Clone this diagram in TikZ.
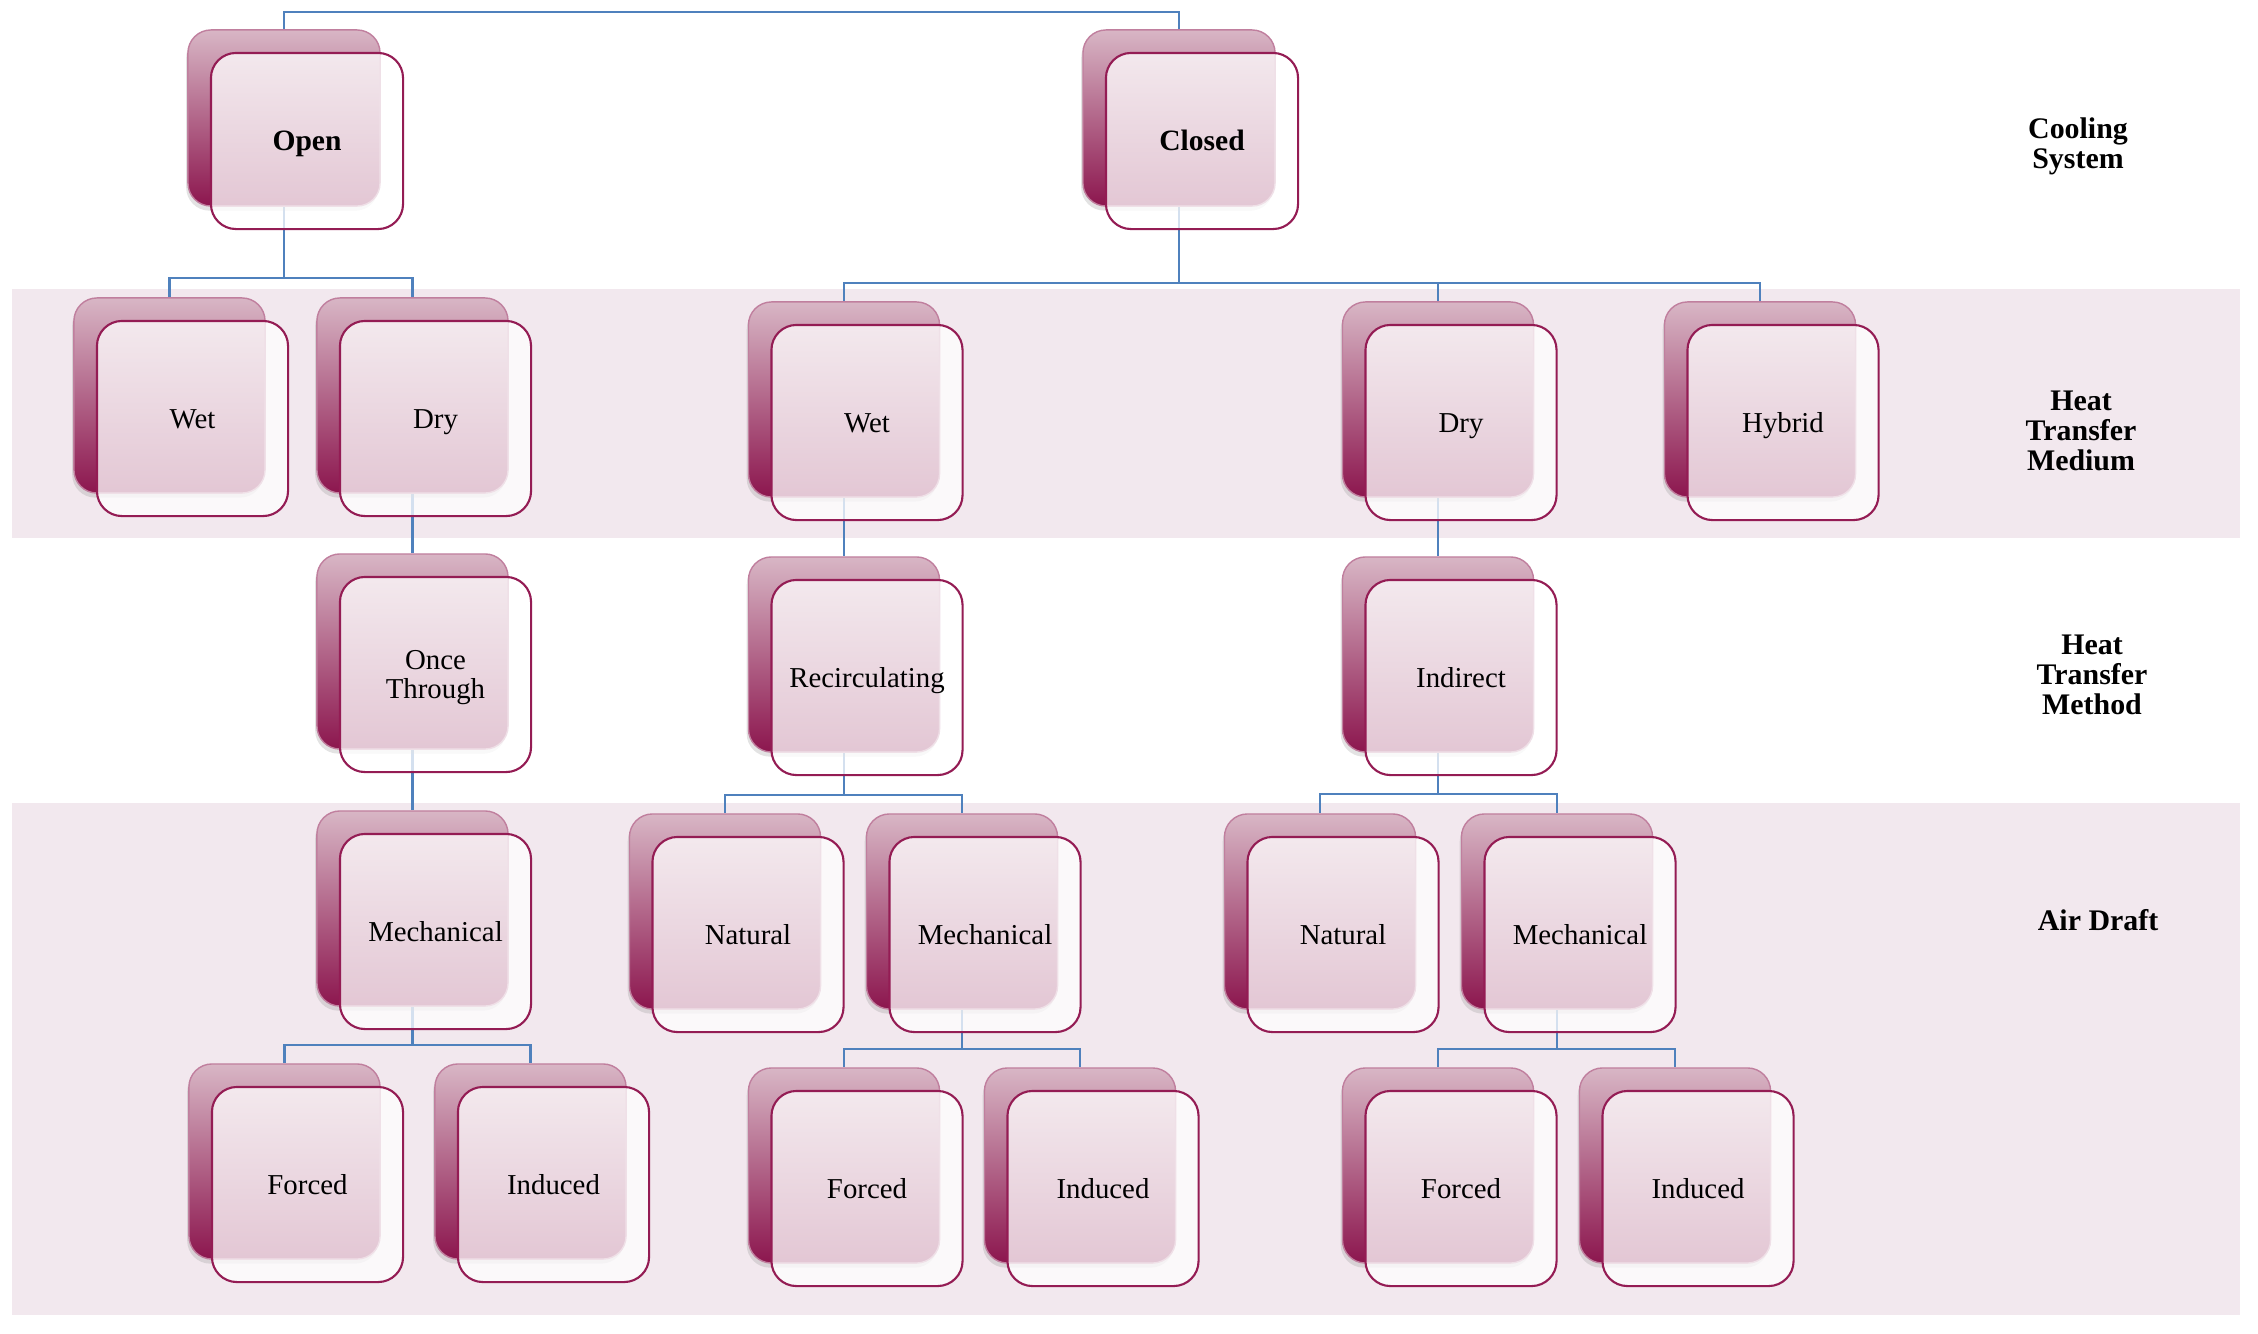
\documentclass[tikz,border=0pt]{standalone}
\usepackage{fontspec}
\setmainfont{Liberation Serif}
\usetikzlibrary{shadows}
\definecolor{bandcol}{RGB}{242,232,238}
\definecolor{linecol}{RGB}{79,129,189}
\definecolor{framecol}{RGB}{148,28,84}
\definecolor{backtop}{RGB}{216,182,197}
\definecolor{backbot}{RGB}{140,22,78}
\pgfdeclarelayer{bands}
\pgfdeclarelayer{lines}
\pgfsetlayers{bands,lines,main}
\tikzset{
  backbox/.style={rectangle, rounded corners=0.23cm, minimum width=1.91cm, minimum height=1.95cm, inner sep=0pt,
    top color=backtop, bottom color=backbot, draw=backbot!55, line width=0.4pt,
    drop shadow={shadow xshift=-0.5pt, shadow yshift=-1.3pt, opacity=0.22}},
  frontbox/.style={rectangle, rounded corners=0.25cm, minimum width=1.91cm, minimum height=1.95cm, inner sep=0pt,
    draw=framecol, line width=0.6pt, fill=white, fill opacity=0.76, text opacity=1,
    font=\fontsize{8.2}{9.2}\selectfont, align=center, text height=5.4pt, text depth=0pt},
  sizeA/.style={minimum width=1.92cm, minimum height=1.76cm},
  sizeB/.style={},
  twoline/.style={text height={}, font=\fontsize{8.2}{8.4}\selectfont},
  boldtext/.style={font=\bfseries\fontsize{8.4}{9}\selectfont},
  conn/.style={draw=linecol, line width=0.6pt},
  heading/.style={font=\bfseries\fontsize{8.5}{8.5}\selectfont, align=center},
}
\newcommand\twobox[5]{%
  \node[backbox,#4] (#1-b) at (#2,#3) {};
  \node[frontbox,#4] (#1) at ({#2+23},{#3+23}) {#5};
}
\begin{document}
\begin{tikzpicture}[x=0.01cm,y=-0.01cm]
\useasboundingbox (0,0) rectangle (2258,1333);
\begin{pgfonlayer}{bands}
  \fill[bandcol] (12,289) rectangle (2240,538);
  \fill[bandcol] (12,803) rectangle (2240,1315);
\end{pgfonlayer}

% row 1
\twobox{open}{284}{118}{sizeA,boldtext}{Open}
\twobox{closed}{1179}{118}{sizeA,boldtext}{Closed}
% row 2
\twobox{wet1}{169.5}{395.5}{sizeB}{Wet}
\twobox{dry1}{412.5}{395.5}{sizeB}{Dry}
\twobox{wet2}{844}{399.5}{sizeB}{Wet}
\twobox{dry2}{1438}{399.5}{sizeB}{Dry}
\twobox{hybrid}{1760}{399.5}{sizeB}{Hybrid}
% row 3
\twobox{once}{412.5}{651.5}{sizeB,twoline}{Once\\Through}
\twobox{recirc}{844}{654.5}{sizeB}{Recirculating}
\twobox{indirect}{1438}{654.5}{sizeB}{Indirect}
% row 4
\twobox{mech1}{412.5}{908.5}{sizeB}{Mechanical}
\twobox{nat2}{725}{911.5}{sizeB}{Natural}
\twobox{mech2}{962}{911.5}{sizeB}{Mechanical}
\twobox{nat3}{1320}{911.5}{sizeB}{Natural}
\twobox{mech3}{1557}{911.5}{sizeB}{Mechanical}
% row 5
\twobox{forced1}{284.5}{1161.5}{sizeB}{Forced}
\twobox{induced1}{530.5}{1161.5}{sizeB}{Induced}
\twobox{forced2}{844}{1165.5}{sizeB}{Forced}
\twobox{induced2}{1080}{1165.5}{sizeB}{Induced}
\twobox{forced3}{1438}{1165.5}{sizeB}{Forced}
\twobox{induced3}{1675}{1165.5}{sizeB}{Induced}

% headings
\node[heading] (hcs) at (2078,146) {Cooling\\System};
\node[heading] (hmed) at (2081,431) {Heat\\Transfer\\Medium};
\node[heading] (hmet) at (2092,675) {Heat\\Transfer\\Method};
\node[heading] (hair) at (2098,920) {Air Draft};

% connectors
\coordinate (root) at (778,12);
\coordinate (jO) at (284,278);
\coordinate (jC) at (1179,283);
\coordinate (jR) at (844,795);
\coordinate (jI) at (1438,794);
\coordinate (jM1) at (412.5,1045);
\coordinate (jM2) at (962,1049);
\coordinate (jM3) at (1557,1049);
\begin{pgfonlayer}{lines}
  \draw[conn] (open-b.north) |- (root);
  \draw[conn] (closed-b.north) |- (root);
  \draw[conn] (open-b.south) -- (jO) -| (wet1-b.north);
  \draw[conn] (jO) -| (dry1-b.north);
  \draw[conn] (closed-b.south) -- (jC) -| (wet2-b.north);
  \draw[conn] (jC) -| (dry2-b.north);
  \draw[conn] (jC) -| (hybrid-b.north);
  \draw[conn] (dry1-b.south) -- (once-b.north);
  \draw[conn] (wet2-b.south) -- (recirc-b.north);
  \draw[conn] (dry2-b.south) -- (indirect-b.north);
  \draw[conn] (once-b.south) -- (mech1-b.north);
  \draw[conn] (recirc-b.south) -- (jR) -| (nat2-b.north);
  \draw[conn] (jR) -| (mech2-b.north);
  \draw[conn] (indirect-b.south) -- (jI) -| (nat3-b.north);
  \draw[conn] (jI) -| (mech3-b.north);
  \draw[conn] (mech1-b.south) -- (jM1) -| (forced1-b.north);
  \draw[conn] (jM1) -| (induced1-b.north);
  \draw[conn] (mech2-b.south) -- (jM2) -| (forced2-b.north);
  \draw[conn] (jM2) -| (induced2-b.north);
  \draw[conn] (mech3-b.south) -- (jM3) -| (forced3-b.north);
  \draw[conn] (jM3) -| (induced3-b.north);
\end{pgfonlayer}
\end{tikzpicture}
\end{document}
